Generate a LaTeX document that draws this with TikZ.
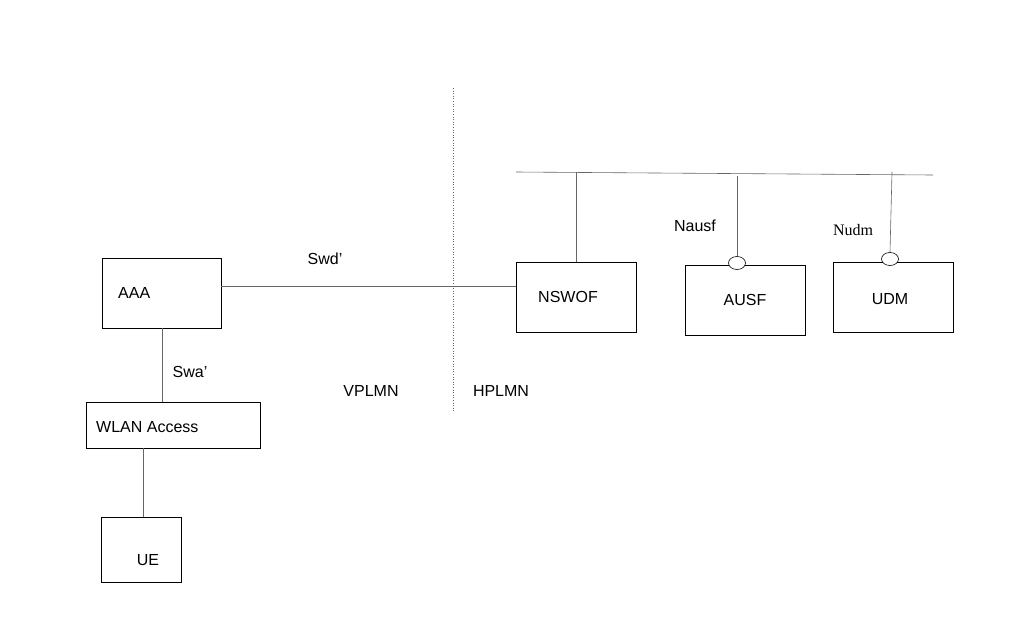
\documentclass[tikz,border=0pt]{standalone}
\usepackage{fontspec}
\setmainfont{Liberation Sans}
\newfontfamily\serifx{Liberation Serif}
\begin{document}
\begin{tikzpicture}[x=1pt,y=-1pt,
 box/.style={draw,line width=0.6pt},
 ln/.style={draw=gray!80!black,line width=0.6pt},
 lbl/.style={font=\fontsize{16}{18}\selectfont,inner sep=0pt},
 port/.style={draw,ellipse,minimum width=17pt,minimum height=13pt,inner sep=0pt,fill=white,line width=0.6pt}]
\useasboundingbox (0,0) rectangle (1026,627);
\usetikzlibrary{shapes.geometric}
\draw[box] (102,258) rectangle (221,328); \node[lbl,anchor=west] (aaa) at (118,293) {AAA};
\coordinate (aaaR) at (221,286); \coordinate (aaaB) at (162,328);
\draw[box] (86,402) rectangle (260,448); \node[lbl,anchor=west] (wlan) at (96,427) {WLAN Access};
\coordinate (wlT) at (162,402); \coordinate (wlB) at (143,448);
\draw[box] (101,517) rectangle (181,582); \node[lbl] (ue) at (148,560) {UE};
\coordinate (ueT) at (143,517);
\draw[box] (516,262) rectangle (636,332); \node[lbl] (nswof) at (568,297) {NSWOF};
\coordinate (nsL) at (516,286); \coordinate (nsT) at (576,262);
\draw[box] (685,265) rectangle (805,335); \node[lbl] (ausf) at (745,300) {AUSF};
\draw[box] (833,262) rectangle (953,332); \node[lbl] (udm) at (890,299) {UDM};
\coordinate (b1) at (516,172); \coordinate (b2) at (933,175);
\draw[ln] (b1) -- (b2);
\draw[ln] (576,172) -- (nsT);
\node[port] (p1) at (737,263) {};
\node[port] (p2) at (890,259) {};
\draw[ln] (737,176) -- (p1.north);
\draw[ln] (892,172) -- (p2.north);
\draw[ln] (aaaR) -- (nsL);
\draw[ln] (aaaB) -- (wlT);
\draw[ln] (wlB) -- (ueT);
\draw[ln,dotted] (453,88) -- (453,413);
\node[lbl] (swd) at (325,259) {Swd’};
\node[lbl] (swa) at (190,372) {Swa’};
\node[lbl] (vp) at (371,391) {VPLMN};
\node[lbl] (hp) at (501,391) {HPLMN};
\node[lbl] (na) at (695,226) {Nausf};
\node[lbl,font=\serifx\fontsize{16}{18}\selectfont] (nu) at (853,230) {Nudm};
\end{tikzpicture}
\end{document}
